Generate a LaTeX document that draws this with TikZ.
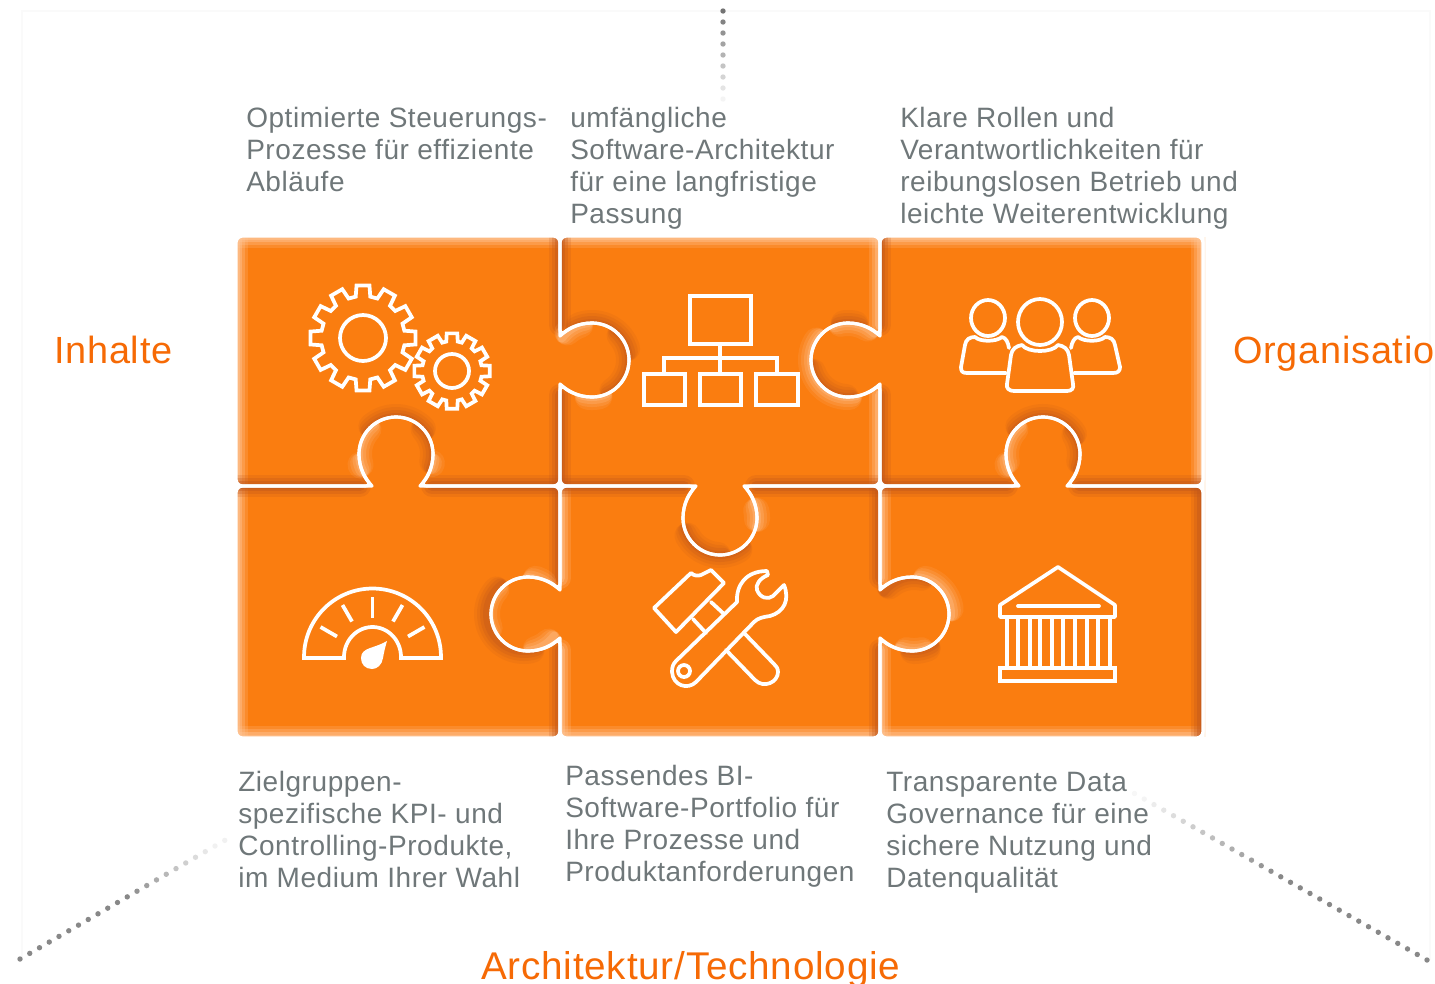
\documentclass[tikz,border=0pt]{standalone}
\usepackage{fontspec}
\setmainfont[LetterSpace=2]{Liberation Sans}
\definecolor{pz}{HTML}{FA7D10}
\definecolor{pzd}{HTML}{C0561C}
\definecolor{pzl}{HTML}{FFC79A}
\definecolor{txt}{HTML}{6F7779}
\definecolor{lab}{HTML}{F66A05}
\newcommand\tabp[6]{-- ({#1-24*#3},{#2-24*#4}) [sharp corners]
 .. controls ({#1-31*#3+8*#5},{#2-31*#4+8*#6}) and ({#1-37*#3+18*#5},{#2-37*#4+18*#6}) .. ({#1-37*#3+32*#5},{#2-37*#4+32*#6})
 .. controls ({#1-37*#3+52.4*#5},{#2-37*#4+52.4*#6}) and ({#1-20.4*#3+69*#5},{#2-20.4*#4+69*#6}) .. ({#1+69*#5},{#2+69*#6})
 .. controls ({#1+20.4*#3+69*#5},{#2+20.4*#4+69*#6}) and ({#1+37*#3+52.4*#5},{#2+37*#4+52.4*#6}) .. ({#1+37*#3+32*#5},{#2+37*#4+32*#6})
 .. controls ({#1+37*#3+18*#5},{#2+37*#4+18*#6}) and ({#1+31*#3+8*#5},{#2+31*#4+8*#6}) .. ({#1+24*#3},{#2+24*#4}) [rounded corners=5pt]}
\def\pA{(236,236) -- (560,236) \tabp{560}{360}{0}{1}{1}{0} -- (560,486) \tabp{396}{486}{-1}{0}{0}{-1} -- (236,486) -- cycle}
\def\pB{(560,236) -- (880,236) \tabp{880}{360}{0}{1}{-1}{0} -- (880,486) \tabp{720}{486}{-1}{0}{0}{1} -- (560,486) \tabp{560}{360}{0}{-1}{1}{0} -- cycle}
\def\pC{(880,236) -- (1203,236) -- (1203,486) \tabp{1043}{486}{-1}{0}{0}{-1} -- (880,486) \tabp{880}{360}{0}{-1}{-1}{0} -- cycle}
\def\pD{(236,486) \tabp{396}{486}{1}{0}{0}{-1} -- (560,486) \tabp{560}{614}{0}{1}{-1}{0} -- (560,738) -- (236,738) -- cycle}
\def\pE{(560,486) \tabp{720}{486}{1}{0}{0}{1} -- (880,486) \tabp{880}{614}{0}{1}{1}{0} -- (880,738) -- (560,738) \tabp{560}{614}{0}{-1}{-1}{0} -- cycle}
\def\pF{(880,486) \tabp{1043}{486}{1}{0}{0}{-1} -- (1203,486) -- (1203,738) -- (880,738) \tabp{880}{614}{0}{-1}{1}{0} -- cycle}
\newcommand\glow[2]{\foreach \w/\o in {22/.2,16/.28,10/.4,5/.45}{\draw[#1,opacity=\o,line width=\w*.75pt,line cap=round] #2;}}
\newcommand\garc[5]{\foreach \w/\o in {26/.12,20/.16,14/.22,8/.3}{
 \pgfmathsetmacro\mid{(#4+#5)/2}\pgfmathsetmacro\hlf{max(1,abs(#5-#4)/2-.7*\w)}
 \draw[#1,opacity=\o,line width=\w*.75pt,line cap=round] plot[domain={\mid-\hlf}:{\mid+\hlf},samples=20,smooth] ({#2+37*cos(\x)},{#3-37*sin(\x)});}}
\newcommand\gear[6]{\draw[icon] ({#1+#4*cos(90-#6)},{#2-#4*sin(90-#6)}) \foreach \a in {90,120,...,420}{
 -- ({#1+#3*cos(\a-#5)},{#2-#3*sin(\a-#5)}) -- ({#1+#3*cos(\a+#5)},{#2-#3*sin(\a+#5)})
 -- ({#1+#4*cos(\a+#6)},{#2-#4*sin(\a+#6)}) -- ({#1+#4*cos(\a+30-#6)},{#2-#4*sin(\a+30-#6)})} -- cycle;}
\tikzset{
 icon/.style={draw=white,line width=2.8pt,line join=miter},
 iconr/.style={draw=white,line width=2.8pt,line join=round,line cap=round},
 seam/.style={draw=white,line width=2.4pt,rounded corners=5pt,line join=round},
 piece/.style={fill=pz,rounded corners=5pt},
 para/.style={anchor=north west,inner sep=0pt,align=left,text=txt,font=\fontsize{21}{24}\selectfont},
 head/.style={anchor=base west,inner sep=0pt,text=lab,font=\fontsize{29}{34}\selectfont},
 heads/.style={anchor=base west,inner sep=0pt,text=lab,font=\fontsize{28.4}{34}\selectfont}
}
\begin{document}
\begin{tikzpicture}[x=0.75pt,y=-0.75pt]
\useasboundingbox (0,0) rectangle (1435,983);
% faint frame
\draw[black!2,line width=.8pt] (22,960) -- (22,11) -- (1430,11) -- (1430,960);
\draw[orange!8,line width=1.2pt] (1205,237) -- (1205,737);
% dotted rays
\foreach \i in {0,...,8}{\pgfmathsetmacro\op{min(1,max(.08,1-.115*\i))}\fill[black!55,opacity=\op] (723,{11+11*\i}) circle (2.7);}
\foreach \i in {0,...,21}{\pgfmathsetmacro\op{\i<12?0.85:max(.1,.85-.085*(\i-11))}\fill[black!55,opacity=\op] ({20+9.75*\i},{959-5.65*\i}) circle (2.7);}
\foreach \i in {0,...,30}{\pgfmathsetmacro\op{\i<16?0.85:max(.06,.85-.055*(\i-15))}\fill[black!55,opacity=\op] ({1427-9.75*\i},{960-5.55*\i}) circle (2.7);}
% pieces
\fill[piece] \pA; \fill[piece] \pB; \fill[piece] \pC; \fill[piece] \pD; \fill[piece] \pE; \fill[piece] \pF;
\begin{scope}\clip[rounded corners=5pt] \pA;
 \glow{pzl}{(237,237)--(560,237)}\glow{pzl}{(237,237)--(237,486)}
 \glow{pzd}{(560,237)--(560,325)}\glow{pzd}{(560,395)--(560,486)}
 \glow{pzd}{(237,486)--(360,486)}\glow{pzd}{(432,486)--(560,486)}
 \garc{pzd}{592}{360}{60}{-75}\garc{pzl}{592}{360}{150}{90}
 \garc{pzd}{396}{454}{150}{25}\garc{pzl}{396}{454}{180}{215}\garc{pzl}{396}{454}{0}{-30}
\end{scope}
\begin{scope}\clip[rounded corners=5pt] \pB;
 \glow{pzl}{(560,237)--(880,237)}\glow{pzl}{(880,237)--(880,325)}\glow{pzl}{(880,395)--(880,486)}
 \glow{pzd}{(560,237)--(560,325)}\glow{pzd}{(560,395)--(560,486)}
 \glow{pzd}{(560,486)--(684,486)}\glow{pzd}{(756,486)--(880,486)}
 \garc{pzd}{592}{360}{130}{0}\garc{pzl}{592}{360}{-60}{-115}
 \garc{pzd}{848}{360}{60}{115}\garc{pzl}{848}{360}{130}{290}
 \garc{pzd}{720}{518}{190}{285}\garc{pzl}{720}{518}{-20}{30}
\end{scope}
\begin{scope}\clip[rounded corners=5pt] \pC;
 \glow{pzl}{(880,237)--(1202,237)}\glow{pzl}{(1202,237)--(1202,486)}
 \glow{pzd}{(880,237)--(880,325)}\glow{pzd}{(880,395)--(880,486)}
 \glow{pzd}{(880,486)--(1007,486)}\glow{pzd}{(1079,486)--(1202,486)}
 \garc{pzd}{1043}{454}{150}{15}\garc{pzl}{1043}{454}{180}{215}
 \garc{pzl}{848}{360}{40}{120}\garc{pzd}{848}{360}{180}{285}
\end{scope}
\begin{scope}\clip[rounded corners=5pt] \pD;
 \glow{pzl}{(237,486)--(237,737)}\glow{pzl}{(237,737)--(560,737)}
 \glow{pzd}{(237,486)--(360,486)}\glow{pzd}{(432,486)--(560,486)}
 \glow{pzd}{(560,486)--(560,578)}\glow{pzd}{(560,650)--(560,737)}
 \garc{pzl}{396}{454}{120}{215}\garc{pzd}{396}{454}{60}{-30}
 \garc{pzd}{524}{614}{120}{300}\garc{pzl}{524}{614}{40}{90}
\end{scope}
\begin{scope}\clip[rounded corners=5pt] \pE;
 \glow{pzl}{(560,486)--(560,578)}\glow{pzl}{(560,650)--(560,737)}\glow{pzl}{(560,737)--(880,737)}
 \glow{pzd}{(560,486)--(684,486)}\glow{pzd}{(756,486)--(880,486)}
 \glow{pzd}{(880,486)--(880,578)}\glow{pzd}{(880,650)--(880,737)}
 \garc{pzd}{720}{518}{190}{320}\garc{pzl}{720}{518}{-20}{30}
 \garc{pzd}{914}{614}{150}{60}\garc{pzl}{914}{614}{-120}{-60}
 \garc{pzl}{524}{614}{-30}{-90}\garc{pzl}{524}{614}{120}{220}
\end{scope}
\begin{scope}\clip[rounded corners=5pt] \pF;
 \glow{pzl}{(880,486)--(880,578)}\glow{pzl}{(880,650)--(880,737)}\glow{pzl}{(880,737)--(1202,737)}
 \glow{pzd}{(880,486)--(1007,486)}\glow{pzd}{(1079,486)--(1202,486)}
 \glow{pzd}{(1202,486)--(1202,737)}
 \garc{pzl}{1043}{454}{120}{210}\garc{pzd}{1043}{454}{50}{-30}
 \garc{pzl}{914}{614}{90}{-10}\garc{pzd}{914}{614}{-50}{-110}
\end{scope}
\draw[seam] \pA; \draw[seam] \pB; \draw[seam] \pC; \draw[seam] \pD; \draw[seam] \pE; \draw[seam] \pF;
% gears
\gear{363}{338}{53}{42}{7}{10}
\draw[icon] (363,338) circle (23);
\gear{452}{371}{38}{30}{8}{11}
\draw[icon] (452,371) circle (17);
% org chart
\draw[icon] (690,296) rectangle (751,344);
\draw[icon] (720,344) -- (720,374) (664,374) -- (664,358) -- (777,358) -- (777,374);
\draw[icon] (644,374) rectangle (685,405) (700,374) rectangle (741,405) (756,374) rectangle (798,405);
% people
\draw[iconr] (988,318) ellipse (17 and 18) (1092,318) ellipse (17 and 18) (1040,322) ellipse (22 and 23);
\draw[iconr] (1006,373) -- (967,373) .. controls (962,373) and (961,371) .. (961,367) -- (965,345) .. controls (966,339) and (970,337) .. (975,337) .. controls (980,342) and (996,342) .. (1002,337) .. controls (1006,338) and (1008,342) .. (1009,348);
\draw[iconr] (1074,373) -- (1113,373) .. controls (1118,373) and (1120,371) .. (1120,367) -- (1115,345) .. controls (1114,339) and (1110,337) .. (1105,337) .. controls (1100,342) and (1084,342) .. (1078,337) .. controls (1074,338) and (1072,342) .. (1071,348);
\draw[iconr] (1014,391) -- (1067,391) .. controls (1072,391) and (1074,388) .. (1073,384) -- (1069,355) .. controls (1068,349) and (1064,346) .. (1058,345) .. controls (1052,353) and (1028,353) .. (1022,345) .. controls (1016,346) and (1012,349) .. (1011,355) -- (1007,384) .. controls (1006,388) and (1009,391) .. (1014,391) -- cycle;
% gauge
\draw[icon] (344,658) -- plot[domain=180:0,samples=30,smooth] ({372.5+28.5*cos(\x)},{657-30*sin(\x)}) -- (401,658) -- (441,658) -- plot[domain=0:180,samples=40,smooth] ({372.5+68.5*cos(\x)},{657-68.5*sin(\x)}) -- (304,658) -- cycle;
\draw[icon] (372.5,597) -- (372.5,618);
\foreach \a in {30,60,120,150}{\draw[icon] ({372.5+41*cos(\a)},{657-41*sin(\a)}) -- ({372.5+60*cos(\a)},{657-60*sin(\a)});}
\fill[white] (387,641) .. controls (385,648) and (384,652) .. (383,658) .. controls (382,665) and (377,669) .. (372,669) .. controls (365,669) and (361,664) .. (361,658) .. controls (361,652) and (365,650) .. (370,648) .. controls (376,646) and (382,644) .. (387,641) -- cycle;
% tools
\draw[iconr] (654,608) -- (691,573) .. controls (694,576) and (698,576) .. (701,575) -- (711,570) -- (724,583) -- (676,632) -- cycle;
\draw[iconr] (693,619) -- (706,633) (711,602) -- (724,614);
\draw[iconr] (726,650) -- (755,680) .. controls (764,689) and (778,682) .. (778,672) .. controls (778,668) and (776,666) .. (774,664) -- (745,634);
\draw[iconr] (737,602) .. controls (736,585) and (746,571) .. (767,571) -- (768,575) .. controls (760,578) and (755,585) .. (757,590) .. controls (760,598) and (768,600) .. (773,596) -- (784,585) .. controls (790,600) and (784,612) .. (770,616) .. controls (763,617) and (758,618) .. (754,622) -- (696,682) .. controls (688,690) and (673,686) .. (672,672) .. controls (672,667) and (673,664) .. (676,661) -- cycle;
\draw[icon] (684,671) circle (6);
% temple
\draw[iconr] (1000,617) -- (1000,605) -- (1058,567) -- (1115,605) -- (1115,617) -- cycle;
\draw[iconr] (1018,606) -- (1099,606);
\foreach \c in {1007,1018,1030,1040,1052,1063,1075,1087,1098,1110}{\draw[icon] (\c,617) -- (\c,668);}
\draw[icon] (1000,668) rectangle (1115,681);
% text
\node[para] (t1) at (246,107) {Optimierte Steuerungs-\\Prozesse für effiziente\\Abläufe};
\node[para] (t2) at (570,107) {umfängliche\\Software-Architektur\\für eine langfristige\\Passung};
\node[para] (t3) at (900,107) {Klare Rollen und\\Verantwortlichkeiten für\\reibungslosen Betrieb und\\leichte Weiterentwicklung};
\node[para] (t4) at (238,771) {Zielgruppen-\\spezifische KPI- und\\Controlling-Produkte,\\im Medium Ihrer Wahl};
\node[para] (t5) at (565,765) {Passendes BI-\\Software-Portfolio für\\Ihre Prozesse und\\Produktanforderungen};
\node[para] (t6) at (886,772) {Transparente Data\\Governance für eine\\sichere Nutzung und\\Datenqualität};
\node[heads] (h1) at (54,363) {Inhalte};
\node[heads] (h2) at (1233,363) {Organisatio};
\node[head] (h3) at (481,979) {Architektur/Technologie};
\end{tikzpicture}
\end{document}
